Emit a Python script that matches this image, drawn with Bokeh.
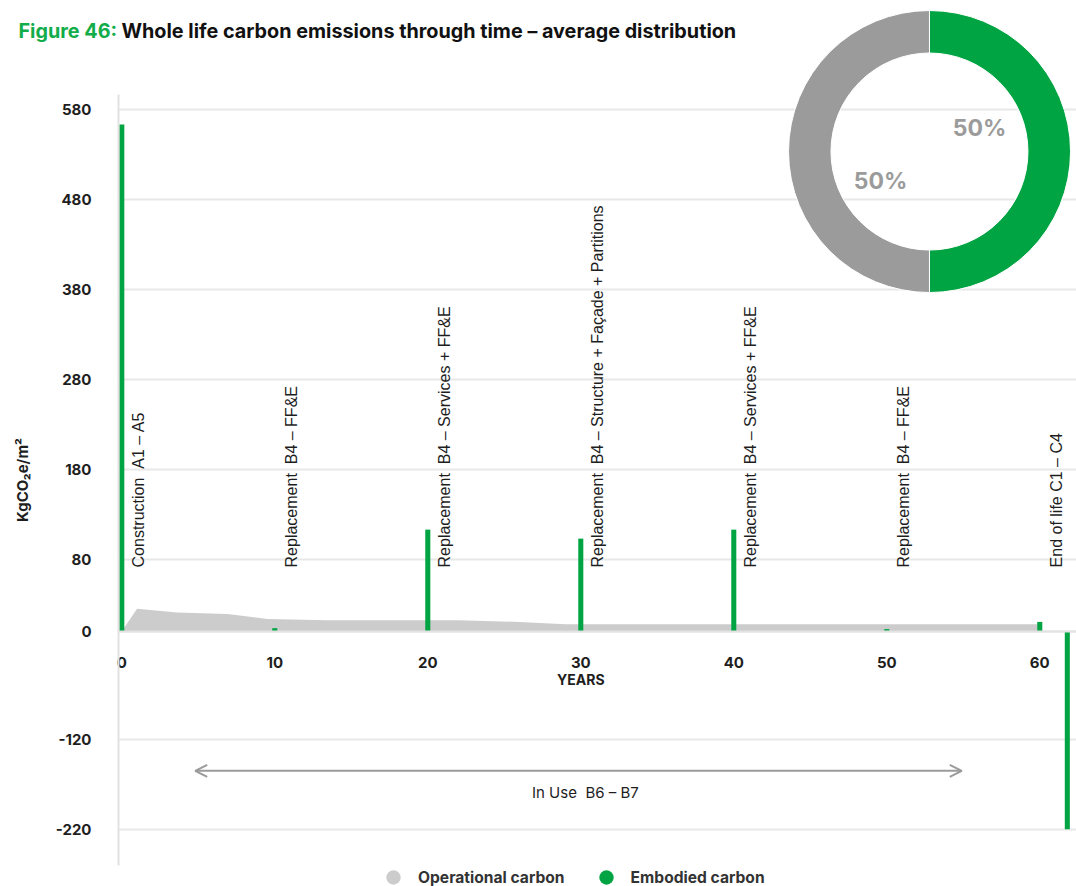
import numpy as np
from bokeh.plotting import figure
from bokeh.models import FixedTicker, Label, Arrow, OpenHead, Legend, LegendItem, PrintfTickFormatter
from bokeh.core.properties import value
from bokeh.embed import file_html
from bokeh.resources import INLINE

GREEN = "#00a443"
OP_GREY = "#cccccc"
RING_GREY = "#9b9b9b"
GRID = "#e8e8e8"
INK = "#1e1e1e"
NB = "\u00a0"

# Embodied carbon events through the building life (years, kgCO2e/m2)
event_years = [0, 10, 20, 30, 40, 50, 60]
event_labels = [
    f"Construction {NB}A1 \u2013 A5",
    f"Replacement {NB}B4 \u2013 FF&E",
    f"Replacement {NB}B4 \u2013 Services + FF&E",
    f"Replacement {NB}B4 \u2013 Structure + Fa\u00e7ade + Partitions",
    f"Replacement {NB}B4 \u2013 Services + FF&E",
    f"Replacement {NB}B4 \u2013 FF&E",
    "End of life C1 \u2013 C4",
]
bar_years = [0, 10, 20, 30, 40, 50, 60, 61.8]
embodied = [563, 3.5, 113, 103, 113, 2.5, 10.5, -220]

# Operational carbon profile (years, kgCO2e/m2)
op_years = [0, 1, 3.6, 6.9, 9.5, 13.4, 22, 26, 29, 60, 60]
op_values = [0, 25, 21, 19.3, 13.8, 12.2, 12.2, 10.5, 8, 8, 0]

# Whole life split (%)
share_names = ["Operational carbon", "Embodied carbon"]
shares = [50, 50]

y_ticks = [580, 480, 380, 280, 180, 80, 0, -120, -220]
x_ticks = [0, 10, 20, 30, 40, 50, 60]

X0, X1 = -7.928, 62.4      # full canvas width in years
AXIS_X = -0.216            # where the value axis sits

p = figure(
    width=1076, height=886,
    x_range=(X0, X1), y_range=(-283.5, 700.9),
    output_backend="svg", toolbar_location=None,
    min_border_left=0, min_border_right=0,
    min_border_top=0, min_border_bottom=0,
)
p.outline_line_color = None
p.background_fill_color = "white"
p.border_fill_color = "white"

# axes, both pinned inside the frame
p.xaxis.fixed_location = 0
p.xaxis.bounds = (AXIS_X, X1)
p.xaxis.ticker = FixedTicker(ticks=x_ticks)
p.xaxis.major_tick_line_color = None
p.xaxis.minor_tick_line_color = None
p.xaxis.axis_line_color = "#e2e2e2"
p.xaxis.axis_line_width = 2
p.xaxis.major_label_standoff = 20
p.xaxis.major_label_text_font = "Inter"
p.xaxis.major_label_text_font_style = "bold"
p.xaxis.major_label_text_font_size = "15px"
p.xaxis.major_label_text_color = INK

p.yaxis.fixed_location = AXIS_X
p.yaxis.ticker = FixedTicker(ticks=y_ticks)
p.yaxis.formatter = PrintfTickFormatter(format="%d")
p.yaxis.bounds = (-260, 596)
p.yaxis.major_tick_line_color = None
p.yaxis.minor_tick_line_color = None
p.yaxis.axis_line_color = "#e2e2e2"
p.yaxis.axis_line_width = 2
p.yaxis.major_label_standoff = 21
p.yaxis.major_label_text_font = "Inter"
p.yaxis.major_label_text_font_style = "bold"
p.yaxis.major_label_text_font_size = "15px"
p.yaxis.major_label_text_color = INK
p.yaxis.axis_label = "KgCO\u2082e/m\u00b2"
p.yaxis.axis_label_standoff = 21
p.yaxis.axis_label_text_font = "Inter"
p.yaxis.axis_label_text_font_style = "bold"
p.yaxis.axis_label_text_font_size = "15px"
p.yaxis.axis_label_text_color = INK

p.xgrid.visible = False
ygrid = p.ygrid[0]
ygrid.ticker = FixedTicker(ticks=y_ticks)
ygrid.grid_line_color = GRID
ygrid.grid_line_width = 2
if "cross_bounds" in ygrid.properties():
    ygrid.cross_bounds = (AXIS_X, X1)
else:
    # keep grid lines off the tick label margin
    p.quad(left=X0, right=AXIS_X, bottom=-283.5, top=700.9,
           fill_color="white", line_color=None, level="underlay")

# operational carbon area
p.varea(x=op_years, y1=[0] * len(op_years), y2=op_values, fill_color=OP_GREY)

# embodied carbon bars
p.vbar(x=bar_years, top=embodied, bottom=0, width=0.33, fill_color=GREEN, line_color=None)

# event labels
p.text(
    x=event_years, y=[71] * len(event_years), text=event_labels,
    angle=np.pi / 2, x_offset=17, text_align="left", text_baseline="middle",
    text_font=value("Liberation Sans"), text_font_size="16px", text_color=INK,
)

# x axis title
p.text(x=[30], y=[-53.5], text=["YEARS"], text_align="center", text_baseline="middle",
       text_font=value("Inter"), text_font_style="bold", text_font_size="14px", text_color=INK)

# in-use span
p.add_layout(Arrow(
    start=OpenHead(size=12, line_color=RING_GREY, line_width=2),
    end=OpenHead(size=12, line_color=RING_GREY, line_width=2),
    x_start=4.8, y_start=-155, x_end=54.9, y_end=-155,
    line_color=RING_GREY, line_width=2,
))
p.text(x=[30.3], y=[-179], text=[f"In Use {NB}B6 \u2013 B7"], text_align="center", text_baseline="middle",
       text_font=value("Inter"), text_font_size="15px", text_color=INK)

# whole life split donut
frac = np.array(shares, dtype=float) / sum(shares)
emb_start = -np.pi / 2
emb_end = emb_start + 2 * np.pi * frac[1]
op_start = emb_end
op_end = op_start + 2 * np.pi * frac[0]
cx, cy = 52.79, 533.1
p.annular_wedge(
    x=[cx, cx], y=[cy, cy], inner_radius=98.5, outer_radius=141,
    inner_radius_units="screen", outer_radius_units="screen",
    start_angle=[op_start, emb_start], end_angle=[op_end, emb_end],
    fill_color=[RING_GREY, GREEN], line_color="white", line_width=1,
)
p.text(
    x=[cx, cx], y=[cy, cy], text=[f"{s:g}%" for s in shares],
    x_offset=[-49, 50], y_offset=[29, -23.5],
    text_align="center", text_baseline="middle",
    text_font=value("Inter"), text_font_style="bold", text_font_size="23px", text_color=RING_GREY,
)

# title
p.add_layout(Label(x=18, y=856, x_units="screen", y_units="screen", text="Figure 46:",
                   text_font="Inter", text_font_style="bold", text_font_size="19.8px",
                   text_color="#12ac4a", text_baseline="middle"))
p.add_layout(Label(x=121, y=856, x_units="screen", y_units="screen",
                   text="Whole life carbon emissions through time \u2013 average distribution",
                   text_font="Inter", text_font_style="bold", text_font_size="19.8px",
                   text_color="#111111", text_baseline="middle"))

# legend swatches
r_op = p.scatter(x=np.array([np.nan]), y=np.array([np.nan]), marker="circle",
                 fill_color=OP_GREY, line_color=None)
r_emb = p.scatter(x=np.array([np.nan]), y=np.array([np.nan]), marker="circle",
                  fill_color=GREEN, line_color=None)
legend = Legend(
    items=[LegendItem(label=share_names[0], renderers=[r_op]),
           LegendItem(label=share_names[1], renderers=[r_emb])],
    orientation="horizontal", location=(375, -9),
    glyph_width=36, glyph_height=36, label_standoff=7, spacing=23,
    padding=0, margin=0, border_line_color=None, background_fill_alpha=0,
    label_text_font="Inter", label_text_font_style="bold", label_text_font_size="15.6px",
    label_text_color="#333333",
)
p.add_layout(legend)

open("out.html", "w").write(file_html(p, INLINE))
